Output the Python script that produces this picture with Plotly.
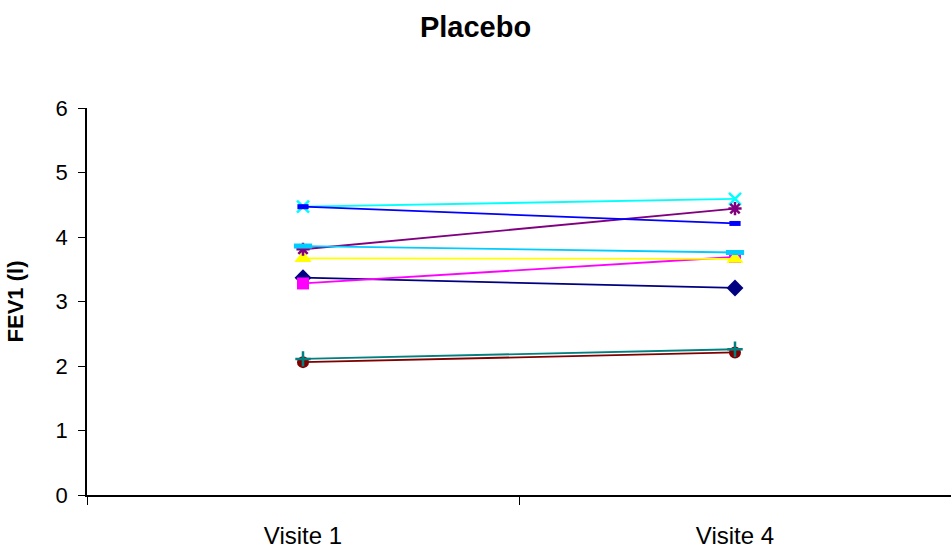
import plotly.graph_objects as go

visits = ["Visite 1", "Visite 4"]

# FEV1 (litres) per patient at each visit
patient_values = [
    [3.37, 3.21],
    [3.28, 3.69],
    [3.67, 3.66],
    [4.47, 4.59],
    [3.81, 4.44],
    [2.06, 2.21],
    [2.11, 2.26],
    [4.47, 4.21],
    [3.86, 3.76],
]

line_colors = ["#000080", "#FF00FF", "#FFFF00", "#00FFFF", "#800080",
               "#800000", "#008080", "#0000FF", "#00CCFF"]
symbols = ["diamond", "square", "triangle-up", "x-thin-open", "asterisk-open",
           "circle", "cross-thin-open", "line-ew-open", "line-ew-open"]
sizes = [13, 12, 15, 12, 11, 12, 11, 8, 13]
marker_line_widths = [0, 0, 0, 2.5, 2.5, 0, 2.5, 5, 5]

fig = go.Figure()
for vals, col, sym, sz, lw in zip(patient_values, line_colors, symbols, sizes, marker_line_widths):
    fig.add_trace(go.Scatter(
        x=visits, y=vals, mode="lines+markers",
        line=dict(color=col, width=1.8),
        marker=dict(symbol=sym, size=sz, color=col,
                    line=dict(color=col, width=lw)),
        showlegend=False,
    ))

fig.update_layout(
    width=951, height=550,
    margin=dict(l=87, r=0, t=108, b=55),
    paper_bgcolor="white", plot_bgcolor="white",
    font=dict(family="Liberation Sans, Arial, sans-serif", color="black"),
    title=dict(text="<b>Placebo</b>", x=0.5, xanchor="center",
               y=1 - 27 / 550, yanchor="middle", font=dict(size=29)),
    xaxis=dict(type="category", range=[-0.5, 1.5], tickson="boundaries",
               ticks="outside", ticklen=8, tickcolor="black", tickwidth=1,
               showline=True, linecolor="black", linewidth=1.5,
               showgrid=False, zeroline=False, tickfont=dict(size=24),
               ticklabelstandoff=18),
    yaxis=dict(range=[0, 6], dtick=1, ticks="outside", ticklen=7,
               tickcolor="black", tickwidth=1, showline=True,
               linecolor="black", linewidth=1.5, showgrid=False,
               zeroline=False, tickfont=dict(size=22),
               ticklabelstandoff=6,
               title=dict(text="<b>FEV1 (l)</b>", font=dict(size=22), standoff=26)),
)

fig.write_html("out.html")
